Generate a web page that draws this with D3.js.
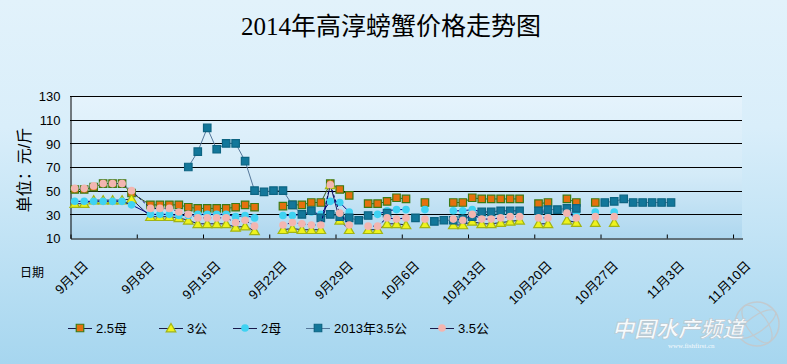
<!DOCTYPE html>
<meta charset="utf-8">
<style>
    body { margin: 0; }
    text { font-family: "Liberation Sans", "Noto Sans CJK SC", sans-serif; fill: #000; }
    .title { font-family: "Liberation Serif", "Noto Sans CJK SC", serif; font-size: 25px; }
</style>
<body>
<svg id="chart" width="787" height="364"></svg>
<script src="https://cdn.jsdelivr.net/npm/d3@7/dist/d3.min.js"></script>
<script>
    // rows of the sheet (dates that have a row; 9/8 has none)
    var dates = [
        "9/1","9/2","9/3","9/4","9/5","9/6","9/7",
        "9/9","9/10","9/11","9/12","9/13","9/14","9/15","9/16","9/17","9/18","9/19","9/20",
        "9/21","9/22",
        "9/23","9/24","9/25","9/26","9/27","9/28","9/29","9/30",
        "10/1",
        "10/2","10/3","10/4","10/5","10/6",
        "10/7","10/8","10/9","10/10",
        "10/11","10/12","10/13","10/14","10/15","10/16","10/17","10/18",
        "10/19",
        "10/20","10/21","10/22","10/23","10/24","10/25","10/26",
        "10/27","10/28","10/29","10/30","10/31","11/1","11/2","11/3"
    ];
    var n = null;
    var mu25 = [
        51,51,53,56,56,56,48,
        38,38,38,38,36,35,35,35,35,36,38,36,
        n,n,
        37,38,38,40,40,56,51,46,
        n,
        39,39,41,44,43,
        n,40,n,n,
        40,40,44,43,43,43,43,43,
        n,
        39,40,n,43,40,n,40,
        n,n,n,n,n,n,n,n
    ];
    var gong3 = [
        39,39,42,42,42,42,43,
        28,28,28,27,25,22,22,22,22,19,20,16,
        n,n,
        17,18,17,17,17,55,25,17,
        n,
        17,17,22,22,21,
        n,22,n,n,
        21,21,24,22,22,23,24,25,
        n,
        22,22,n,25,23,n,23,
        n,23,n,n,n,n,n,n
    ];
    var mu2 = [
        41,41,41,41,41,41,38,
        30,30,30,29,29,30,30,30,30,28,29,27,
        n,n,
        29,29,30,32,30,41,40,32,
        n,
        n,30,33,34,34,
        n,34,n,n,
        33,33,34,32,32,33,33,33,
        n,
        32,32,n,31,31,n,32,
        n,32,n,n,n,n,n,n
    ];
    var gong35y2013 = [
        n,n,n,n,n,n,n,
        n,n,n,n,70,83,103,85,90,90,75,50,
        49,50,
        50,38,30,33,27,30,28,27,
        25,
        29,n,31,n,n,
        27,n,24,25,
        25,26,28,32,32,33,33,33,
        n,
        33,34,34,35,35,n,n,
        40,41,43,40,40,40,40,40
    ];
    var gong35 = [
        52,52,54,56,56,56,50,
        35,35,35,32,30,27,27,27,27,23,25,20,
        n,n,
        21,23,22,21,21,55,31,21,
        n,
        20,20,27,26,27,
        n,26,n,n,
        26,25,30,26,26,27,28,28,
        n,
        27,27,n,31,27,n,28,
        n,28,n,n,n,n,n,n
    ];
    var seriesNames = ["2.5母", "3公", "2母", "2013年3.5公", "3.5公"];
    var yTicks = [10, 30, 50, 70, 90, 110, 130];
    var xTickLabels = ["9月1日","9月8日","9月15日","9月22日","9月29日","10月6日",
                       "10月13日","10月20日","10月27日","11月3日","11月10日"];

    var W = 787, H = 364;
    var plotL = 70, plotR = 742, plotT = 96, plotB = 238;

    var parseDay = function(s) {
        var p = s.split("/");
        return new Date(Date.UTC(2014, +p[0] - 1, +p[1]));
    };
    var dayMs = 864e5;
    var startDay = parseDay("9/1"), endDay = parseDay("11/11");

    var x = d3.scaleUtc().domain([startDay, endDay]).range([plotL, plotR]);
    var y = d3.scaleLinear().domain([10, 130]).range([plotB, plotT]);
    // Excel date axis: each day is a slot, point in the middle
    var xc = function(s) { return x(new Date(+parseDay(s) + dayMs / 2)); };

    var svg = d3.select("#chart");
    var defs = svg.append("defs");

    var bg = defs.append("linearGradient").attr("id", "bg")
        .attr("x1", 0).attr("y1", 0).attr("x2", 0).attr("y2", 1);
    bg.append("stop").attr("offset", "0%").attr("stop-color", "#e2f2fb");
    bg.append("stop").attr("offset", "35%").attr("stop-color", "#d9eefa");
    bg.append("stop").attr("offset", "100%").attr("stop-color", "#a6d6ef");

    var pg = defs.append("linearGradient").attr("id", "plotbg")
        .attr("x1", 0).attr("y1", 0).attr("x2", 0).attr("y2", 1);
    pg.append("stop").attr("offset", "0%").attr("stop-color", "#e5f3fc");
    pg.append("stop").attr("offset", "55%").attr("stop-color", "#d4ebf8");
    pg.append("stop").attr("offset", "100%").attr("stop-color", "#aed7ef");

    svg.append("rect").attr("width", W).attr("height", H).attr("fill", "url(#bg)");
    svg.append("rect").attr("x", plotL).attr("y", plotT)
        .attr("width", plotR - plotL).attr("height", plotB - plotT)
        .attr("fill", "url(#plotbg)");

    // title
    svg.append("text").attr("class", "title")
        .attr("x", 391).attr("y", 35)
        .attr("text-anchor", "middle")
        .text("2014年高淳螃蟹价格走势图");

    // grid lines
    svg.append("g").selectAll("line")
        .data(yTicks.filter(function(d) { return d > 10; }))
        .enter().append("line")
        .attr("x1", plotL).attr("x2", plotR)
        .attr("y1", function(d) { return Math.round(y(d)) + 0.5; })
        .attr("y2", function(d) { return Math.round(y(d)) + 0.5; })
        .attr("stroke", "#000").attr("stroke-width", 1);

    // y axis
    var yAxis = d3.axisLeft(y).tickValues(yTicks).tickSize(0).tickPadding(10);
    var gy = svg.append("g").attr("transform", "translate(" + (plotL + 0.5) + ",0.5)").call(yAxis);
    gy.select(".domain").attr("stroke", "#000");
    gy.selectAll("text").style("font-size", "13px")
        .style("font-family", "'Liberation Sans', Arial, sans-serif");

    svg.append("text")
        .attr("transform", "translate(30,170) rotate(-90)")
        .attr("text-anchor", "middle")
        .style("font-size", "16px")
        .text("单位：元/斤");

    // x axis
    var tickDates = xTickLabels.map(function(d, i) { return new Date(+startDay + i * 7 * dayMs); });
    var xAxis = d3.axisBottom(x).tickValues(tickDates).tickSizeInner(-4).tickSizeOuter(0)
        .tickFormat(function(d, i) { return xTickLabels[i]; });
    var gx = svg.append("g").attr("transform", "translate(0.5," + (plotB + 0.5) + ")").call(xAxis);
    gx.select(".domain").attr("stroke", "#000");
    gx.selectAll(".tick line").attr("stroke", "#000");
    gx.selectAll("text")
        .style("font-size", "13px")
        .attr("text-anchor", "end")
        .attr("dy", null).attr("y", null)
        .attr("transform", "translate(18,28) rotate(-45)");

    svg.append("text").attr("x", 20).attr("y", 277)
        .style("font-size", "12px").text("日期");

    // series
    var series = [
        { name: seriesNames[0], values: mu25, line: "#3c5a1e", dash: null, marker: "square", fill: "#e5700e", stroke: "#3d7a14" },
        { name: seriesNames[1], values: gong3, line: "#1c1c5a", dash: null, marker: "triangle", fill: "#eef21c", stroke: "#a2b414" },
        { name: seriesNames[2], values: mu2, line: "#000080", dash: null, marker: "circle", fill: "#3fd2f2", stroke: "none" },
        { name: seriesNames[3], values: gong35y2013, line: "#55779a", dash: null, marker: "square", fill: "#13779a", stroke: "#0d6482" },
        { name: seriesNames[4], values: gong35, line: "#00006a", dash: "3,2", marker: "circle", fill: "#f3b5b0", stroke: "none" }
    ];

    var line = d3.line()
        .defined(function(d) { return d.v != null; })
        .x(function(d) { return xc(d.date); })
        .y(function(d) { return y(d.v); });

    function markerPath(type) {
        if (type === "square") return d3.symbol().type(d3.symbolSquare).size(56)();
        if (type === "triangle") return d3.symbol().type(d3.symbolTriangle).size(40)();
        return d3.symbol().type(d3.symbolCircle).size(46)();
    }

    var plot = svg.append("g");
    series.forEach(function(s) {
        var pts = dates.map(function(d, i) { return { date: d, v: s.values[i] }; });
        var g = plot.append("g");
        g.append("path").datum(pts)
            .attr("d", line)
            .attr("fill", "none")
            .attr("stroke", s.line)
            .attr("stroke-width", 1)
            .attr("stroke-dasharray", s.dash);
        g.selectAll("path.m")
            .data(pts.filter(function(p) { return p.v != null; }))
            .enter().append("path").attr("class", "m")
            .attr("d", markerPath(s.marker))
            .attr("transform", function(p) {
                var yy = y(p.v) + (s.marker === "triangle" ? 1 : 0);
                return "translate(" + xc(p.date) + "," + yy + ")";
            })
            .attr("fill", s.fill)
            .attr("stroke", s.stroke)
            .attr("stroke-width", 1.2);
    });

    // legend
    var legendX = [68, 159, 233, 306, 430];
    var legendY = 328;
    var lg = svg.append("g");
    series.forEach(function(s, i) {
        var g = lg.append("g").attr("transform", "translate(" + legendX[i] + "," + legendY + ")");
        g.append("line").attr("x1", 0).attr("x2", 24).attr("y1", 0.5).attr("y2", 0.5)
            .attr("stroke", i === 3 ? s.line : "#1a1a4a").attr("stroke-width", 1);
        g.append("path").attr("d", markerPath(s.marker))
            .attr("transform", "translate(12," + (s.marker === "triangle" ? 1 : 0) + ")")
            .attr("fill", s.fill).attr("stroke", s.stroke).attr("stroke-width", 1.2);
        g.append("text").attr("x", 28).attr("y", 5)
            .style("font-size", "13px").text(s.name);
    });

    // watermark
    var wm = svg.append("g").attr("opacity", 0.9);
    wm.append("circle").attr("cx", 757).attr("cy", 324).attr("r", 22)
        .attr("fill", "none").attr("stroke", "#c4c9cc").attr("stroke-width", 1.5);
    wm.append("ellipse").attr("cx", 757).attr("cy", 324).attr("rx", 10).attr("ry", 22)
        .attr("fill", "none").attr("stroke", "#c4c9cc").attr("stroke-width", 1.2)
        .attr("transform", "rotate(-35,757,324)");
    wm.append("ellipse").attr("cx", 757).attr("cy", 324).attr("rx", 22).attr("ry", 8)
        .attr("fill", "none").attr("stroke", "#c4c9cc").attr("stroke-width", 1.2)
        .attr("transform", "rotate(-35,757,324)");
    wm.append("text").attr("x", 612).attr("y", 337)
        .style("font-size", "22px").style("font-style", "italic").style("font-weight", "bold")
        .style("fill", "#ffffff").style("stroke", "#b9c2c8").style("stroke-width", 0.6)
        .text("中国水产频道");
    wm.append("text").attr("x", 668).attr("y", 348)
        .style("font-size", "7px").style("fill", "#ffffff")
        .style("font-family", "'Liberation Serif', serif")
        .text("www.fishfirst.cn");
</script>
</body>
